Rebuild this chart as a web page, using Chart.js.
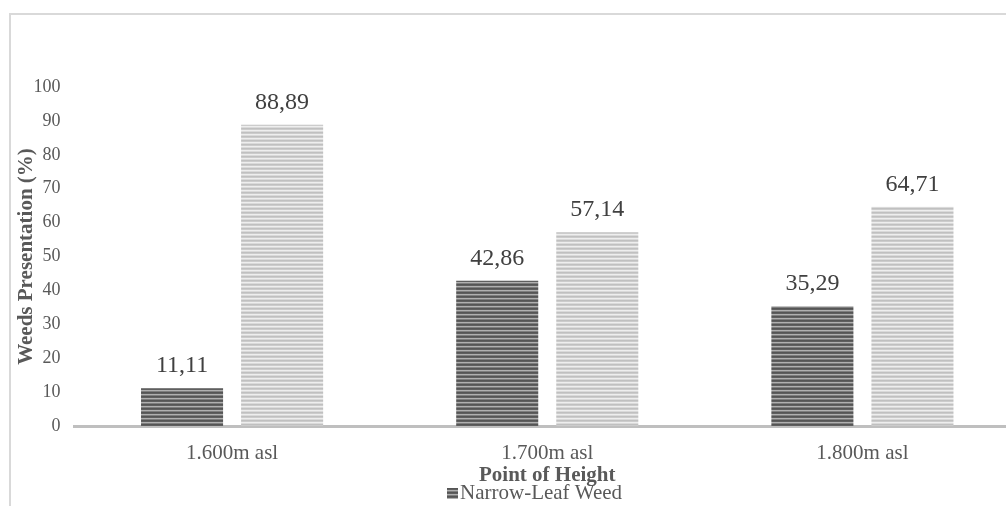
<!DOCTYPE html>
<html>
<head>
<meta charset="utf-8">
<script src="https://cdn.jsdelivr.net/npm/chart.js@4/dist/chart.umd.min.js"></script>
<style>
html,body{margin:0;padding:0;overflow:hidden;background:#fff;width:1006px;height:506px;}
#wrap{position:absolute;left:0;top:0;width:1020px;height:506px;}
</style>
</head>
<body>
<div id="wrap"><canvas id="c" width="1020" height="506"></canvas></div>
<script>
const categories = ['1.600m asl', '1.700m asl', '1.800m asl'];
const seriesNames = ['Narrow-Leaf Weed', 'Broad-Leaf Weed'];
const narrowLeaf = [11.11, 42.86, 35.29];
const broadLeaf = [88.89, 57.14, 64.71];
const yTicks = [0, 10, 20, 30, 40, 50, 60, 70, 80, 90, 100];
const yTitle = 'Weeds Presentation (%)';
const xTitle = 'Point of Height';

function stripePattern(rows) {
  const c = document.createElement('canvas');
  c.width = 8; c.height = rows.length;
  const g = c.getContext('2d');
  rows.forEach((col, i) => { g.fillStyle = col; g.fillRect(0, i, 8, 1); });
  return document.createElement('canvas').getContext('2d').createPattern(c, 'repeat');
}
const darkPat = stripePattern(['#555555', '#5f5f5f', '#b0b0b0', '#7e7e7e']);
const lightPat = stripePattern(['#c0c0c0', '#cccccc', '#eeeeee', '#dadada']);

const serif = "'Liberation Serif', 'Times New Roman', serif";

const framePlugin = {
  id: 'frame',
  beforeDraw(chart) {
    const ctx = chart.ctx;
    ctx.save();
    ctx.strokeStyle = '#d9d9d9';
    ctx.lineWidth = 2;
    ctx.beginPath();
    ctx.moveTo(10, 520);
    ctx.lineTo(10, 14);
    ctx.lineTo(1030, 14);
    ctx.stroke();
    ctx.restore();
  }
};

const labelPlugin = {
  id: 'barLabels',
  afterDatasetsDraw(chart) {
    const ctx = chart.ctx;
    ctx.save();
    ctx.font = '24px ' + serif;
    ctx.fillStyle = '#404040';
    ctx.textAlign = 'center';
    ctx.textBaseline = 'alphabetic';
    chart.data.datasets.forEach((ds, di) => {
      chart.getDatasetMeta(di).data.forEach((bar, i) => {
        const v = ds.data[i].toFixed(2).replace('.', ',');
        ctx.fillText(v, bar.x, bar.y - 16);
      });
    });
    ctx.restore();
  }
};

// Legend (only the first series is visible in the reference)
const legendPlugin = {
  id: 'customLegend',
  afterDraw(chart) {
    const ctx = chart.ctx;
    const ds = chart.data.datasets[0];
    ctx.save();
    ctx.fillStyle = ds.backgroundColor;
    ctx.fillRect(447, 488, 11, 11);
    ctx.font = '21px ' + serif;
    ctx.fillStyle = '#595959';
    ctx.textAlign = 'left';
    ctx.textBaseline = 'alphabetic';
    ctx.fillText(ds.label, 460, 499);
    ctx.restore();
  }
};

new Chart(document.getElementById('c'), {
  type: 'bar',
  data: {
    labels: categories,
    datasets: [
      { label: seriesNames[0], data: narrowLeaf, backgroundColor: darkPat, borderWidth: 0 },
      { label: seriesNames[1], data: broadLeaf, backgroundColor: lightPat, borderWidth: 0 }
    ]
  },
  options: {
    responsive: false,
    animation: false,
    devicePixelRatio: 1,
    layout: { padding: { top: 87, left: 14, right: 0, bottom: 0 } },
    datasets: { bar: { barPercentage: 0.82, categoryPercentage: 0.635 } },
    plugins: {
      tooltip: { enabled: false },
      legend: { display: false }
    },
    scales: {
      x: {
        afterFit: (s) => { s.height = 80; },
        grid: { display: false, drawTicks: false },
        border: { display: true, color: '#bfbfbf', width: 3 },
        ticks: { color: '#595959', font: { family: serif, size: 21 }, padding: 15 },
        title: { display: true, text: xTitle, color: '#595959', font: { family: serif, size: 21, weight: 'bold' }, padding: { top: 0, bottom: 18 } }
      },
      y: {
        min: 0, max: 100,
        afterBuildTicks: (s) => { s.ticks = yTicks.map(v => ({ value: v })); },
        afterFit: (s) => { s.width = 60.5; },
        grid: { display: false, drawTicks: false },
        border: { display: false },
        ticks: { color: '#595959', font: { family: serif, size: 18 }, padding: 14 },
        title: { display: true, text: yTitle, color: '#595959', font: { family: serif, size: 21, weight: 'bold' }, padding: 0 }
      }
    }
  },
  plugins: [framePlugin, labelPlugin, legendPlugin]
});
</script>
</body>
</html>
